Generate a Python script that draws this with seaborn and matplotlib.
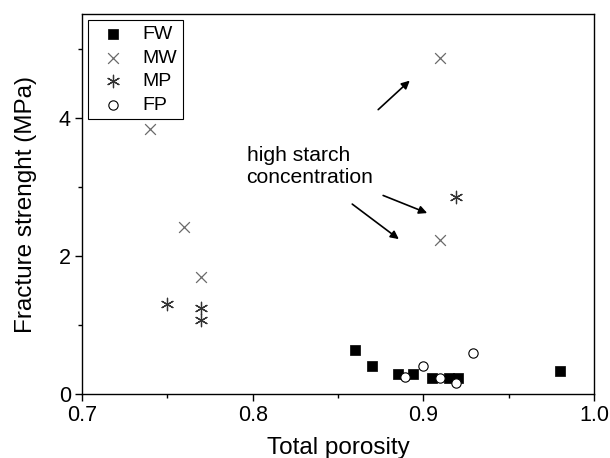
import numpy as np
import pandas as pd
import seaborn as sns
import matplotlib
matplotlib.use("Agg")
import matplotlib.pyplot as plt
from matplotlib.ticker import MultipleLocator

sns.set_style("ticks")
plt.rcParams["font.family"] = ["Liberation Sans", "DejaVu Sans"]
plt.rcParams["text.color"] = "black"
plt.rcParams["axes.labelcolor"] = "black"
plt.rcParams["xtick.color"] = "black"
plt.rcParams["ytick.color"] = "black"

# values
fw_x = [0.86, 0.87, 0.885, 0.894, 0.905, 0.915, 0.92, 0.98]
fw_y = [0.63, 0.41, 0.29, 0.29, 0.23, 0.23, 0.23, 0.34]
mw_x = [0.74, 0.76, 0.77, 0.91, 0.91]
mw_y = [3.84, 2.42, 1.70, 4.87, 2.23]
mp_x = [0.75, 0.77, 0.77, 0.919]
mp_y = [1.30, 1.25, 1.07, 2.85]
fp_x = [0.889, 0.8995, 0.91, 0.919, 0.929]
fp_y = [0.25, 0.40, 0.23, 0.16, 0.60]

fig = plt.figure(figsize=(6.1, 4.58), dpi=100)
ax = fig.add_axes([0.1344, 0.1397, 0.8396, 0.8297])

sns.scatterplot(x=fw_x, y=fw_y, marker="s", color="black", s=45, edgecolor="black",
                linewidth=0.5, label="FW", ax=ax, zorder=3)
sns.scatterplot(x=mw_x, y=mw_y, marker="x", color="#6a6a6a", s=60, linewidth=0.9,
                label="MW", ax=ax, zorder=3)
sns.scatterplot(x=mp_x, y=mp_y, marker=(6, 2, 0), color="#333333", s=80, linewidth=0.9,
                label="MP", ax=ax, zorder=3)
sns.scatterplot(x=fp_x, y=fp_y, marker="o", color="white", s=45, edgecolor="black",
                linewidth=0.8, label="FP", ax=ax, zorder=4)

ax.set_xlim(0.7, 1.0)
ax.set_ylim(0, 5.5)
ax.xaxis.set_major_locator(MultipleLocator(0.1))
ax.xaxis.set_minor_locator(MultipleLocator(0.05))
ax.yaxis.set_major_locator(MultipleLocator(2))
ax.yaxis.set_minor_locator(MultipleLocator(1))
ax.tick_params(which="major", length=5, width=1, labelsize=15.5, color="black", pad=3)
ax.tick_params(which="minor", length=3, width=1, color="black")
for sp in ax.spines.values():
    sp.set_visible(True)
    sp.set_color("black")
    sp.set_linewidth(1.0)

ax.set_xlabel("Total porosity", fontsize=17.5, labelpad=8)
ax.set_ylabel("Fracture strenght (MPa)", fontsize=17.5, labelpad=16)

ax.text(0.7964, 3.29, "high starch\nconcentration", fontsize=15.2, va="center", ha="left")
arrow_kw = dict(arrowstyle="-|>", color="black", lw=1.2, mutation_scale=12, shrinkA=0, shrinkB=0)
ax.annotate("", xy=(0.892, 4.536), xytext=(0.8735, 4.116), arrowprops=arrow_kw)
ax.annotate("", xy=(0.9022, 2.619), xytext=(0.8764, 2.874), arrowprops=arrow_kw)
ax.annotate("", xy=(0.8856, 2.242), xytext=(0.8583, 2.749), arrowprops=arrow_kw)

leg = ax.legend(loc="upper left", fontsize=14, frameon=True, fancybox=False,
                edgecolor="black", framealpha=1, borderaxespad=0.3,
                handletextpad=0.5, labelspacing=0.3, borderpad=0.3, handlelength=2.0)
leg.get_frame().set_linewidth(0.8)

fig.savefig("out.png", dpi=100)
